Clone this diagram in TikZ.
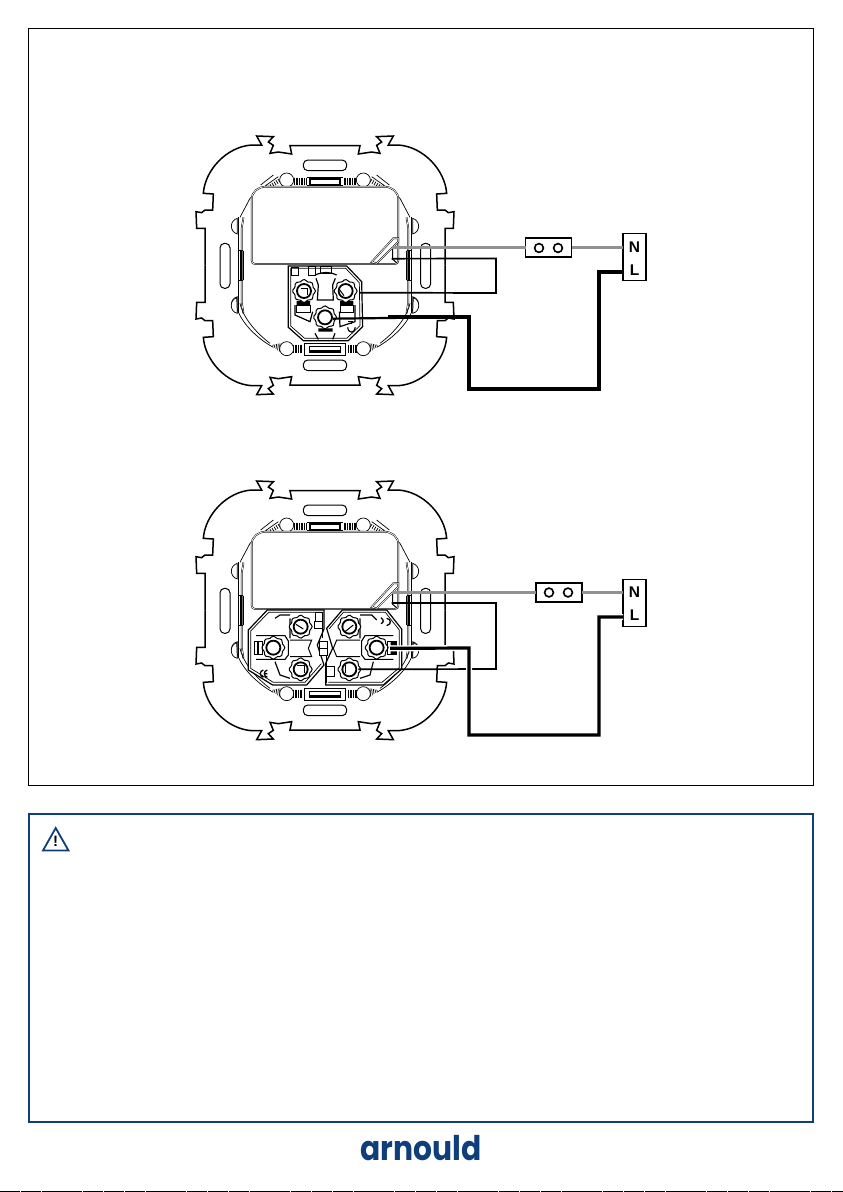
\documentclass[tikz,border=0pt]{standalone}
\usepackage{fontspec}
\newfontfamily\labfont{Liberation Sans}
\newfontfamily\logofont{Poppins}
\definecolor{navy}{HTML}{0F3F7A}
\definecolor{wiregrey}{HTML}{929292}
\tikzset{
  outl/.style={line width=1.5pt,line join=miter},
  thinl/.style={line width=.7pt,black},
  medl/.style={line width=1pt,black},
  dbl/.style={line width=1.7pt,black,postaction={draw=white,line width=.7pt}},
  greywire/.style={line width=3.9pt,wiregrey},
  thinwire/.style={line width=1.7pt,black},
  midwire/.style={line width=2.2pt,black},
  thickwire/.style={line width=3.2pt,black,line join=miter},
  halo/.style={line width=3.2pt,black,line join=miter,preaction={draw=white,line width=6pt}},
  jumperbox/.style={draw=black,line width=1.6pt,fill=white,minimum width=46pt,minimum height=18.5pt,inner sep=0pt,outer sep=0pt},
  nlbox/.style={draw=black,line width=1.6pt,fill=white,minimum width=23pt,minimum height=47pt,inner sep=0pt,outer sep=0pt},
  term/.style={font=\labfont\bfseries\fontsize{15.5}{15.5}\selectfont,inner sep=0pt},
  screw/.style={draw=black,line width=1.8pt,fill=white}
}
% right half, upper part: outline and side strip, repeated by mirroring
\newcommand\mechquarter{
  \draw[outl] (435,47) -- (540,47) -- (535,72) -- (575,66) -- (600,70) -- (590,46) -- (605,36) -- (590,20) -- (640,18) -- (625,45) -- (655,45)
     .. controls (730,50) and (795,120) .. (800,190) -- (770,192) -- (772,240) -- (795,240) -- (805,248) -- (822,245) -- (820,295) -- (795,295) -- (795,406);
  \draw[dbl] (685,406) -- (685,300) .. controls (685,285) and (680,275) .. (680,262);
  \draw[thinl,fill=white] (698,265) .. controls (722,272) and (722,305) .. (698,312) -- cycle;
  \draw[thinl] (695,262) -- (695,406);
  \draw[medl] (680,362) -- (680,406) (694,362) -- (694,406) (680,362) -- (694,362);
  \draw[line width=1.4pt] (687,362) -- (687,406);
}
% top edge details, right half
\newcommand\topdetail{
  \draw[thinl] (610,165) -- (660,205) -- (690,262);
  \draw[thinl] (575,140) -- (612,166);
  \draw[thinl] (590,135) -- (628,165);
  \foreach \k in {0,...,6} \draw[thinl] (570+\k*6,143+\k*4) -- (564+\k*6,153+\k*4);
  \foreach \k in {0,...,7} \draw[line width=.8pt] (492+\k*5,143) -- (492+\k*5,165);
  \draw[medl] (435,142) -- (490,142) (435,165) -- (490,165);
  \draw[line width=1.3pt] (435,147) -- (480,147) -- (480,163) -- (435,163);
  \draw[thinl,fill=white] (550,150) circle (21);
}
% bottom edge details, right half
\newcommand\botdetail{
  \draw[thinl] (700,530) .. controls (690,575) and (640,625) .. (590,652);
  \draw[thinl] (690,520) .. controls (680,565) and (640,610) .. (600,640);
  \foreach \k in {0,...,7} \draw[line width=.7pt] (505+\k*5,644) -- (505+\k*5,668);
  \foreach \k in {0,...,4} \draw[thinl] (570+\k*5,640+\k*1) -- (572+\k*5,665-\k*4);
  \draw[thinl] (435,640) -- (497,640) -- (497,675) -- (435,675);
  \draw[line width=.9pt] (435,650) -- (482,650) -- (482,666) -- (435,666);
  \fill (435,660) rectangle (482,666);
  \draw[thinl,fill=white] (550,656) circle (21);
  \draw[thinl,fill=white] (700,503) .. controls (722,510) and (722,545) .. (698,550) -- cycle;
}
\newcommand\contact[2]{
  \draw[medl,fill=white] plot[smooth cycle,samples=33,domain=0:348.75,variable=\t] ({#1+(32+2.5*cos(8*\t))*cos(\t)},{#2+(32+2.5*cos(8*\t))*sin(\t)});
  \draw[screw] (#1,#2) circle (21);
}
\newcommand\mount{
  \mechquarter
  \begin{scope}[cm={-1,0,0,1,(870,0)}]\mechquarter\end{scope}
  \begin{scope}[cm={1,0,0,-1,(0,812)}]\mechquarter\end{scope}
  \begin{scope}[cm={-1,0,0,-1,(870,812)}]\mechquarter\end{scope}
  \topdetail \botdetail
  \begin{scope}[cm={-1,0,0,1,(870,0)}]\topdetail \botdetail\end{scope}
  \draw[medl,rounded corners=4.5pt] (370,90) rectangle (500,122);
  \draw[medl,rounded corners=4.5pt] (370,690) rectangle (500,722);
  \draw[medl,rounded corners=4.5pt] (120,340) rectangle (150,475);
  \draw[medl,rounded corners=4.5pt] (722,340) rectangle (752,475);
  \draw[dbl,fill=white] (215,392) -- (215,208) .. controls (215,185) and (235,170) .. (258,170) -- (612,170) .. controls (635,170) and (655,185) .. (655,208) -- (655,392) .. controls (655,398) and (650,402) .. (645,402) -- (225,402) .. controls (220,402) and (215,398) .. cycle;
  \draw[dbl,fill=white] (575,396) -- (640,325) -- (655,325) -- (655,335) -- (590,400) -- cycle;
  \draw[medl] (638,352) -- (638,388) -- (652,400);
}
\newcommand\socketone{
  \draw[line width=1.2pt,fill=white] (325,408) -- (500,408) -- (545,455) -- (548,590) -- (505,632) -- (370,632) -- (325,592) -- cycle;
  \draw[thinl] (332,415) -- (497,415) -- (538,458) -- (540,587) -- (500,625) -- (374,625) -- (332,588) -- cycle;
  \draw[medl] (335,412) rectangle (355,436) (385,410) rectangle (405,436) (420,410) rectangle (455,430);
  \draw[line width=1.2pt] (405,435) .. controls (430,425) and (450,425) .. (470,435);
  \draw[line width=1.2pt] (408,445) -- (415,465) -- (412,510) -- (460,510) -- (458,465) -- (466,445);
  \draw[line width=1.2pt] (345,525) -- (345,555) -- (390,575) -- (398,545);
  \draw[line width=1.2pt] (525,525) -- (525,575) -- (480,590) -- (478,545);
  \draw[line width=1.2pt] (405,610) -- (415,628) (465,610) -- (458,628);
  \fill (350,513) rectangle (390,526) (480,513) rectangle (520,526) (415,595) rectangle (458,605);
  \draw[medl] (350,526) rectangle (390,548) (480,526) rectangle (520,548);
  \contact{372}{483}
  \contact{497}{483}
  \contact{435}{562}
  \draw[medl] (362,475) -- (382,475) -- (382,495);
  \draw[medl] (478,478) -- (492,497);
  \draw[line width=1.2pt] (503,575) -- (520,575) (507,580) -- (516,580);
  \draw[line width=1.2pt] (503,592) .. controls (505,612) and (525,610) .. (526,592);
}
\newcommand\sockettwo{
  \draw[line width=1.2pt,fill=white] (205,465) -- (262,405) -- (432,405) -- (432,462) -- (412,510) -- (432,570) -- (380,630) -- (278,630) -- (205,585) -- cycle;
  \draw[line width=1.2pt,fill=white] (440,460) -- (487,405) -- (620,405) -- (665,462) -- (665,582) -- (610,630) -- (437,630) -- (437,565) -- (458,520) -- cycle;
  \draw[thinl] (212,468) -- (266,412) -- (425,412) (212,468) -- (212,580) -- (280,622) -- (375,622) -- (424,566);
  \draw[thinl] (447,462) -- (490,412) -- (616,412) -- (658,465) -- (658,578) -- (606,622) -- (445,622);
  \draw[line width=1.2pt] (285,430) -- (300,420) -- (330,420) (330,490) -- (330,430);
  \draw[line width=1.2pt] (540,420) -- (575,420) -- (590,435) (540,430) -- (540,490);
  \draw[line width=1.1pt] (228,482) -- (315,482) -- (325,498) -- (325,540) -- (315,553) -- (228,553);
  \draw[line width=1.1pt] (640,482) -- (555,482) -- (545,498) -- (545,540) -- (555,553) -- (640,553);
  \draw[line width=1.2pt] (285,560) -- (300,600) -- (330,610) (580,560) -- (570,600) -- (540,610);
  \draw[medl] (330,495) -- (395,495) -- (385,520) -- (395,545) -- (330,545) (540,495) -- (470,495) -- (460,520) -- (470,545) -- (540,545);
  \contact{362}{455}
  \contact{280}{518}
  \contact{362}{583}
  \contact{508}{455}
  \contact{590}{518}
  \contact{508}{583}
  \draw[medl] (348,448) -- (370,462) (495,470) -- (520,450);
  \draw[medl] (352,570) -- (372,570) -- (372,595) (495,570) -- (495,595);
  \draw[medl] (222,498) rectangle (248,538);
  \fill (230,498) rectangle (236,538);
  \draw[medl] (622,498) rectangle (648,538);
  \fill (632,500) rectangle (650,512) (632,525) rectangle (650,537);
  \draw[medl,fill=white] (405,412) rectangle (426,438);
  \draw[medl,fill=white] (402,438) rectangle (426,460);
  \draw[medl,fill=white] (418,500) rectangle (442,520) (418,520) rectangle (442,540);
  \draw[medl,fill=white] (440,575) rectangle (462,605);
  \draw[medl] (427,412) -- (427,490) (438,540) -- (438,625);
  \draw[line width=1.3pt] (250,585) .. controls (238,588) and (238,604) .. (250,607);
  \draw[line width=1.3pt] (262,585) .. controls (250,588) and (250,604) .. (262,607) (252,596) -- (262,596);
  \draw[line width=1.3pt] (620,430) .. controls (635,432) and (635,448) .. (620,452);
  \draw[line width=1.3pt] (603,428) .. controls (612,435) and (612,442) .. (603,446);
}
\begin{document}
\begin{tikzpicture}[x=1pt,y=-1pt]
\useasboundingbox (0,0) rectangle (843,1192);
\fill[white] (0,0) rectangle (843,1192);
\draw[line width=1pt] (28.5,28.5) rectangle (813.5,785);
\node[draw=navy,line width=2.7pt,minimum width=784pt,minimum height=308pt,inner sep=0pt,outer sep=0pt] (warnbox) at (421,968) {};

% first device
\begin{scope}[shift={(180,130)},x=.33333pt,y=-.33333pt]
  \mount
  \socketone
  \coordinate (a1) at (635,355);
  \coordinate (a2) at (635,386);
  \coordinate (a3) at (540,488);
  \coordinate (a4) at (458,566);
\end{scope}
% second device
\begin{scope}[shift={(180,475)},x=.33333pt,y=-.33333pt]
  \mount
  \sockettwo
  \coordinate (b1) at (635,352);
  \coordinate (b2) at (635,384);
  \coordinate (b3) at (535,583);
  \coordinate (b4) at (630,520);
\end{scope}

% terminals
\node[jumperbox] (j1) at (548.5,247.5) {};
\draw[line width=1.6pt] (539,248) circle (4.4) (558,248) circle (4.4);
\node[nlbox] (nl1) at (634.5,257) {};
\node[term] (n1) at (634.5,247) {N};
\node[term] (l1) at (634.5,270) {L};
\node[jumperbox] (j2) at (559,592.5) {};
\draw[line width=1.6pt] (549,592.5) circle (4.4) (568,592.5) circle (4.4);
\node[nlbox] (nl2) at (634.5,603) {};
\node[term] (n2) at (634.5,592) {N};
\node[term] (l2) at (634.5,615) {L};

% wires, first device
\draw[greywire] (a1 |- j1.west) -- (j1.west);
\draw[greywire] (j1.east) -- (nl1.west |- j1.east);
\coordinate (c1) at (496,258.5);
\coordinate (c2) at (496,293);
\draw[thinwire,line join=miter] (a2) -- (c1) -- (c2) -- (a3);
\coordinate (c3) at (469,317);
\coordinate (c4) at (469,389);
\coordinate (c5) at (599,389);
\coordinate (c6) at (599,272);
\draw[midwire] (a4) -- (c3);
\draw[thickwire] (388,317) -- (c3) -- (c4) -- (c5) -- (c6) -- (nl1.west |- c6);

% wires, second device
\draw[greywire] (b1 |- j2.west) -- (j2.west);
\draw[greywire] (j2.east) -- (nl2.west |- j2.east);
\coordinate (d1) at (496,603);
\coordinate (d2) at (496,669);
\draw[thinwire,line join=miter] (b2) -- (d1) -- (d2) -- (b3);
\coordinate (d3) at (469,648);
\coordinate (d4) at (469,735);
\coordinate (d5) at (599,735);
\coordinate (d6) at (599,617);
\draw[halo] (b4) -- (d3) -- (d4) -- (d5) -- (d6) -- (nl2.west |- d6);

% warning sign
\coordinate (t1) at (55.7,828);
\coordinate (t2) at (43,850.5);
\coordinate (t3) at (68.5,850.5);
\draw[navy,line width=1.8pt,line join=miter] (t1) -- (t2) -- (t3) -- cycle;
\node[font=\labfont\bfseries\fontsize{15}{15}\selectfont,inner sep=0pt] (bang) at (55.7,841) {!};

% logo
\node[font=\logofont\bfseries\fontsize{34}{34}\selectfont,text=navy,inner sep=0pt,anchor=base,xscale=.875] (logo) at (421,1160.5) {arnould};
\draw[line width=1pt,dash pattern=on 20pt off .8pt,black] (0,1191.5) -- (843,1191.5);
\end{tikzpicture}
\end{document}
